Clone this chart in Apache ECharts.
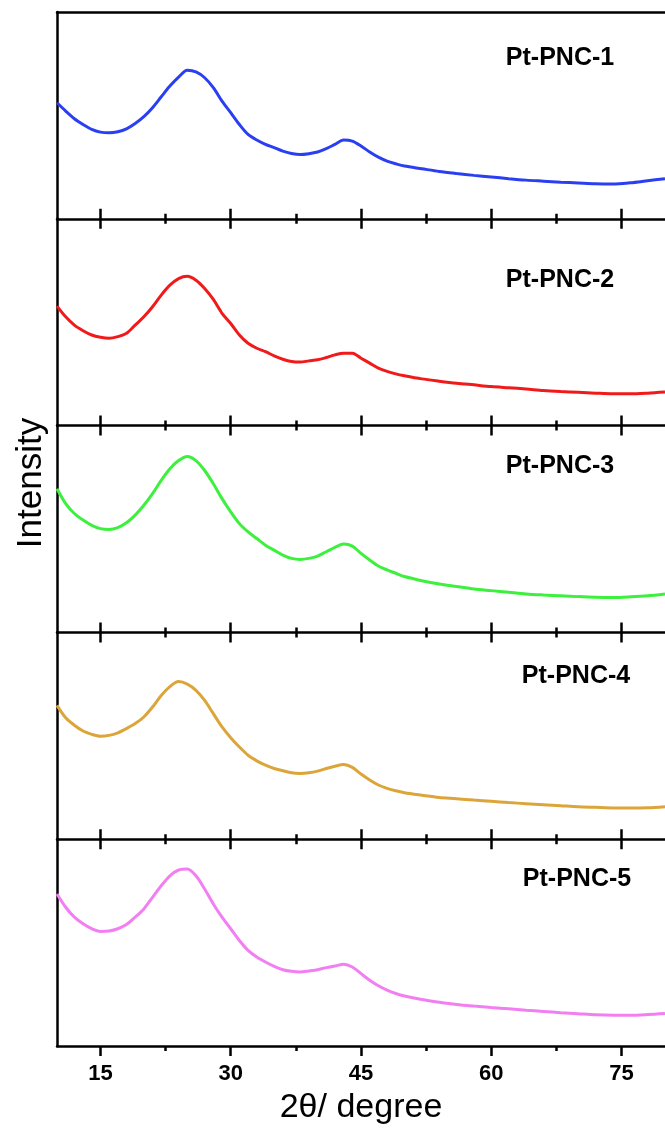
<!DOCTYPE html>
<html>
<head>
<meta charset="utf-8">
<title>XRD patterns of Pt-PNC samples</title>
<script src="https://cdn.jsdelivr.net/npm/echarts@6/dist/echarts.min.js"></script>
<style>
  html, body { margin: 0; padding: 0; background: #ffffff; }
  #chart { width: 665px; height: 1133px; }
</style>
</head>
<body>
<div id="chart"></div>
<script>
// 2θ positions (degrees) shared by all patterns
const twoTheta = [10, 11, 12, 13, 14, 15, 16, 17, 18, 19, 20, 21, 22, 23, 24, 25, 26, 27, 28, 29,
  30, 31, 32, 33, 34, 35, 36, 37, 38, 39, 40, 41, 42, 43, 44, 45, 46, 47, 48, 49, 50,
  52, 54, 56, 58, 60, 62, 64, 66, 68, 70, 72, 74, 76, 78, 80];

// Relative intensity of each sample (each panel has its own 0–100 scale)
const pnc1 = [56.1, 52.1, 48.4, 45.6, 43.2, 41.9, 41.6, 42.1, 43.5, 46.1, 49.4, 53.7, 59.0, 64.2, 68.5, 71.8, 71.0, 68.2, 63.4, 56.9,
  51.3, 45.6, 40.8, 38.1, 36.0, 34.4, 32.7, 31.6, 31.1, 31.5, 32.3, 33.9, 36.0, 38.1, 37.6, 35.2, 32.3, 29.8, 27.9, 26.6, 25.5,
  24.2, 22.9, 21.9, 21.0, 20.2, 19.4, 18.7, 18.2, 17.7, 17.3, 16.9, 16.8, 17.4, 18.4, 19.4];
const pnc2 = [57.8, 52.6, 48.6, 45.9, 43.8, 42.7, 42.2, 43.0, 44.6, 48.6, 52.6, 57.5, 63.1, 67.9, 71.1, 72.2, 70.3, 66.3, 61.0, 54.3,
  49.4, 43.8, 39.8, 37.4, 35.8, 33.7, 32.1, 31.0, 30.7, 31.3, 31.8, 32.9, 34.2, 35.0, 35.0, 32.6, 30.2, 27.8, 26.2, 25.0, 24.1,
  22.6, 21.5, 20.5, 19.7, 18.9, 18.3, 17.7, 17.0, 16.5, 16.1, 15.7, 15.4, 15.4, 15.7, 16.2];
const pnc3 = [69.5, 62.3, 57.5, 54.3, 51.8, 50.2, 49.8, 50.7, 53.0, 56.7, 61.5, 67.1, 73.5, 79.1, 83.1, 85.1, 83.1, 78.3, 71.9, 64.7,
  58.3, 52.6, 48.6, 45.4, 42.2, 39.8, 37.4, 35.8, 35.3, 35.8, 36.9, 39.0, 41.1, 42.7, 41.7, 38.2, 35.0, 32.1, 30.2, 28.6, 27.0,
  25.0, 23.4, 22.2, 21.0, 20.2, 19.4, 18.6, 18.1, 17.7, 17.3, 17.0, 16.9, 17.2, 17.7, 18.6];
const pnc4 = [64.7, 58.7, 55.1, 52.3, 50.7, 49.8, 50.2, 51.4, 53.5, 55.9, 59.1, 63.9, 69.5, 73.8, 76.2, 75.0, 72.0, 67.1, 60.7, 54.3,
  49.1, 44.6, 40.6, 37.9, 35.8, 34.2, 33.1, 32.1, 31.8, 32.1, 32.9, 34.2, 35.3, 36.1, 34.7, 31.5, 28.6, 26.2, 24.6, 23.4, 22.5,
  21.3, 20.2, 19.6, 18.9, 18.3, 17.7, 17.2, 16.7, 16.2, 15.7, 15.4, 15.1, 15.1, 15.2, 15.7];
const pnc5 = [73.5, 67.1, 62.3, 59.1, 56.7, 55.4, 55.6, 56.7, 58.7, 62.3, 66.3, 71.9, 77.5, 82.3, 85.1, 85.6, 82.3, 75.9, 68.7, 62.3,
  56.7, 51.0, 46.2, 43.0, 40.6, 38.5, 36.9, 36.1, 35.8, 36.3, 36.9, 37.9, 38.7, 39.5, 38.2, 35.0, 31.8, 29.1, 27.0, 25.4, 24.2,
  22.5, 21.2, 20.1, 19.3, 18.6, 18.0, 17.3, 16.7, 16.1, 15.6, 15.1, 14.9, 14.9, 15.2, 15.7];

const sampleNames = ['Pt-PNC-1', 'Pt-PNC-2', 'Pt-PNC-3', 'Pt-PNC-4', 'Pt-PNC-5'];
const sampleData = [pnc1, pnc2, pnc3, pnc4, pnc5];
const sampleColors = ['#2b3ff2', '#f01a1a', '#3ef03e', '#dca53a', '#f27ff2'];

// x-axis ticks
const majorTicks = [15, 30, 45, 60, 75];
const minorTicks = [22.5, 37.5, 52.5, 67.5];
const xMin = 10, xMax = 80;

// panel layout
const PLOT_LEFT = 57;
const PLOT_WIDTH = 617;
const PLOT_TOP = 12;
const PANEL_H = 206.8;
const AXIS_W = 2.5;
const FONT = '"Liberation Sans", Arial, sans-serif';

// label anchor points for each panel (centre x, centre y)
const labelPos = [[560, 58], [560, 280], [560, 466], [576, 676], [577, 879]];

const grid = [], xAxis = [], yAxis = [], series = [], graphic = [];

for (let i = 0; i < 5; i++) {
  const top = PLOT_TOP + i * PANEL_H;
  const rect = { left: PLOT_LEFT, top: top, width: PLOT_WIDTH, height: PANEL_H };
  const isLast = i === 4;
  const isFirst = i === 0;
  // main grid (data, frame, major ticks)
  grid.push(Object.assign({}, rect));
  // companion grid on the same rectangle for the minor ticks
  grid.push(Object.assign({}, rect));
  const gMain = 2 * i, gMinor = 2 * i + 1;

  const baseX = {
    type: 'value', min: xMin, max: xMax,
    splitLine: { show: false },
    axisLabel: { show: false }
  };

  // bottom, major ticks + axis line (+ labels on the last panel)
  xAxis.push(Object.assign({}, baseX, {
    gridIndex: gMain, position: 'bottom',
    axisLine: { show: true, onZero: false, lineStyle: { color: '#000', width: AXIS_W } },
    axisTick: { show: true, customValues: majorTicks, length: 10, inside: false,
                lineStyle: { color: '#000', width: AXIS_W } },
    axisLabel: {
      show: isLast, customValues: majorTicks, margin: 17,
      color: '#000', fontSize: 22, fontWeight: 'bold', fontFamily: FONT
    },
    name: isLast ? '2θ/ degree' : '',
    nameLocation: 'middle', nameGap: 45,
    nameTextStyle: { color: '#000', fontSize: 34, fontFamily: FONT }
  }));
  // top, major ticks pointing up into the previous panel (frame line on the first panel)
  xAxis.push(Object.assign({}, baseX, {
    gridIndex: gMain, position: 'top',
    axisLine: { show: isFirst, onZero: false, lineStyle: { color: '#000', width: AXIS_W } },
    axisTick: { show: !isFirst, customValues: majorTicks, length: 10, inside: false,
                lineStyle: { color: '#000', width: AXIS_W } }
  }));
  // bottom, minor ticks
  xAxis.push(Object.assign({}, baseX, {
    gridIndex: gMinor, position: 'bottom',
    axisLine: { show: false, onZero: false },
    axisTick: { show: true, customValues: minorTicks, length: 5, inside: false,
                lineStyle: { color: '#000', width: AXIS_W } }
  }));
  // top, minor ticks
  xAxis.push(Object.assign({}, baseX, {
    gridIndex: gMinor, position: 'top',
    axisLine: { show: false, onZero: false },
    axisTick: { show: !isFirst, customValues: minorTicks, length: 5, inside: false,
                lineStyle: { color: '#000', width: AXIS_W } }
  }));

  yAxis.push({
    type: 'value', gridIndex: gMain, min: 0, max: 100, position: 'left',
    axisLine: { show: true, onZero: false, lineStyle: { color: '#000', width: AXIS_W } },
    axisTick: { show: false }, axisLabel: { show: false }, splitLine: { show: false }
  });
  yAxis.push({
    type: 'value', gridIndex: gMinor, min: 0, max: 100, show: false,
    splitLine: { show: false }
  });

  series.push({
    name: sampleNames[i],
    type: 'line',
    xAxisIndex: 4 * i,
    yAxisIndex: 2 * i,
    data: twoTheta.map((t, k) => [t, sampleData[i][k]]),
    showSymbol: false,
    smooth: 0.3,
    clip: true,
    lineStyle: { color: sampleColors[i], width: 3 },
    itemStyle: { color: sampleColors[i] },
    z: 1
  });

  graphic.push({
    type: 'text',
    x: labelPos[i][0], y: labelPos[i][1],
    style: {
      text: sampleNames[i], fill: '#000',
      font: 'bold 25px ' + FONT,
      align: 'center', verticalAlign: 'middle'
    }
  });
}

graphic.push({
  type: 'text',
  x: 31, y: 483,
  rotation: Math.PI / 2,
  style: {
    text: 'Intensity', fill: '#000',
    font: '35px ' + FONT,
    align: 'center', verticalAlign: 'middle'
  }
});

const chart = echarts.init(document.getElementById('chart'), null, { renderer: 'canvas' });
chart.setOption({
  animation: false,
  backgroundColor: '#ffffff',
  grid: grid,
  xAxis: xAxis,
  yAxis: yAxis,
  series: series,
  graphic: graphic
});
</script>
</body>
</html>
